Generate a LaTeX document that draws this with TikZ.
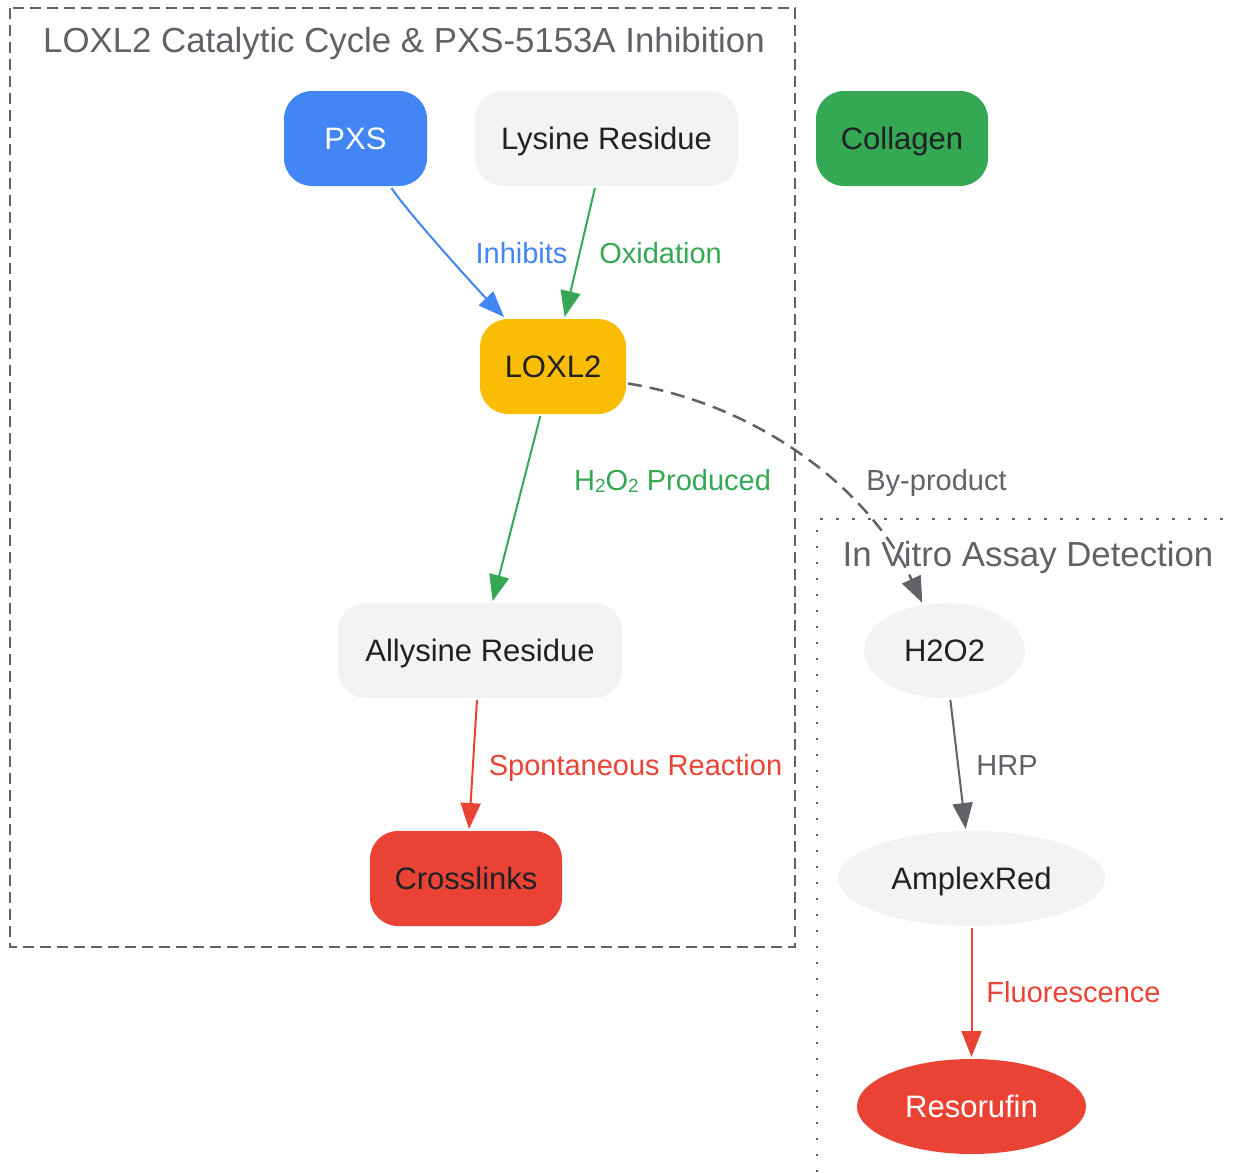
\documentclass[tikz,border=0pt]{standalone}
\usepackage{fontspec}
\setmainfont{Liberation Sans}
\usetikzlibrary{shapes.geometric,arrows.meta}
\definecolor{gblue}{HTML}{4285F4}
\definecolor{ggreen}{HTML}{34A853}
\definecolor{gyellow}{HTML}{FBBC04}
\definecolor{gred}{HTML}{EA4335}
\definecolor{glight}{HTML}{F1F3F4}
\definecolor{gdark}{HTML}{202124}
\definecolor{ggray}{HTML}{5F6368}
\newcommand\ndfont{\fontsize{31}{36}\selectfont}
\newcommand\lbfont{\fontsize{29}{34}\selectfont}
\newcommand\ttlfont{\fontsize{34.8}{40}\selectfont}
\newcommand\subtwo{\raisebox{-1.5pt}{\fontsize{19}{20}\selectfont 2}}
\begin{document}
\begin{tikzpicture}[x=1pt,y=-1pt,
  box/.style={rounded corners=28pt, minimum height=95pt, inner sep=0pt, outer sep=2pt, font=\ndfont, text=gdark, text height=22pt, text depth=0pt},
  oval/.style={ellipse, minimum height=95pt, inner sep=0pt, outer sep=2pt, fill=glight, font=\ndfont, text=gdark, text height=22pt, text depth=0pt},
  lbl/.style={font=\lbfont, inner sep=0pt, anchor=base},
  ttl/.style={font=\ttlfont, inner sep=0pt, anchor=base, text=ggray},
  edge/.style={line width=2pt, -{Triangle[length=26pt,width=20pt]}},
]
\useasboundingbox (0,0) rectangle (1233,1172);
\fill[white] (0,0) rectangle (1233,1172);

% clusters
\draw[ggray, line width=2.6pt, dash pattern=on 11pt off 6pt] (10,8) rectangle (795,947);
\draw[ggray, line width=2.5pt, dash pattern=on 2.5pt off 13.5pt] (817,1172) -- (817,519) -- (1233,519);
\node[ttl] (t1) at (404,52.3) {LOXL2 Catalytic Cycle \& PXS-5153A Inhibition};
\node[ttl] (t2) at (1028,566) {In Vitro Assay Detection};

% nodes
\node[box, fill=gblue, text=white, minimum width=143pt] (pxs) at (355.5,138.5) {PXS};
\node[box, fill=glight, minimum width=263pt] (lys) at (606.5,138.5) {Lysine Residue};
\node[box, fill=ggreen, minimum width=172pt] (col) at (902,138.5) {Collagen};
\node[box, fill=gyellow, minimum width=146pt] (lox) at (553,366.5) {LOXL2};
\node[box, fill=glight, minimum width=284pt] (ally) at (480,650.5) {Allysine Residue};
\node[box, fill=gred, minimum width=192pt] (cross) at (466,878.5) {Crosslinks};
\node[oval, minimum width=161pt] (h2o2) at (944.5,650.5) {H2O2};
\node[oval, minimum width=267pt] (amp) at (971.5,878.5) {AmplexRed};
\node[oval, fill=gred, text=white, minimum width=229pt] (reso) at (971.5,1106.5) {Resorufin};

% edges
\draw[edge, gblue] ([xshift=36pt]pxs.south) .. controls (408,213) and (478,290) .. ([xshift=-49pt]lox.north);
\draw[edge, ggreen] (lys) -- (lox);
\draw[edge, ggreen] (lox) -- (ally);
\draw[edge, gred] (ally) -- (cross);
\draw[edge, ggray, line width=2.5pt, dash pattern=on 14pt off 8pt] ([yshift=-17pt]lox.east) .. controls (760,405) and (870,490) .. (h2o2.115);
\draw[edge, ggray] (h2o2) -- (amp);
\draw[edge, gred] (amp) -- (reso);

% labels
\node[lbl, text=gblue] (l1) at (521.5,263) {Inhibits};
\node[lbl, text=ggreen] (l2) at (660.5,263) {Oxidation};
\node[lbl, text=ggreen] (l3) at (672.5,490.5) {H\subtwo O\subtwo\ Produced};
\node[lbl, text=gred] (l4) at (635.5,775) {Spontaneous Reaction};
\node[lbl, text=ggray] (l5) at (936.5,490.7) {By-product};
\node[lbl, text=ggray] (l6) at (1007,775) {HRP};
\node[lbl, text=gred] (l7) at (1073.5,1002) {Fluorescence};
\end{tikzpicture}
\end{document}
